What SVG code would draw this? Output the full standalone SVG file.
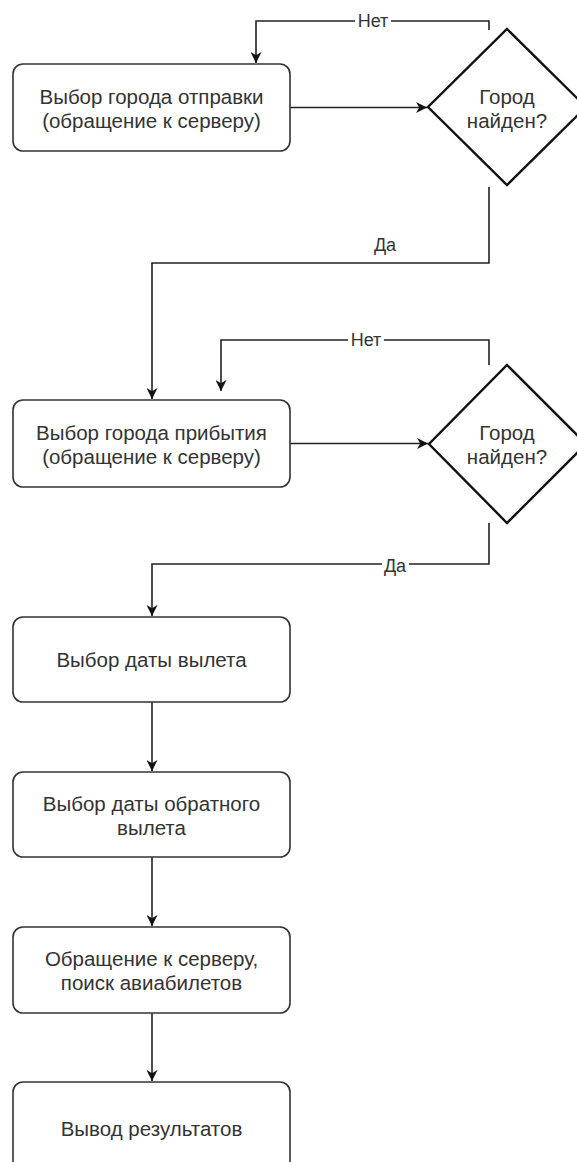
<svg xmlns="http://www.w3.org/2000/svg" width="577" height="1162" viewBox="0 0 577 1162">
<style>
.box{fill:#fff;stroke:#333;stroke-width:1.6}
.dia{fill:#fff;stroke:#111;stroke-width:2.4}
.t{font-family:"Liberation Sans",Arial,sans-serif;font-size:20.5px;fill:#333;text-anchor:middle}
.lbl{font-family:"Liberation Sans",Arial,sans-serif;font-size:18px;fill:#333;text-anchor:middle}
.c{fill:none;stroke:#222;stroke-width:1.6}
.bg{fill:#fff}
</style>
<defs>
<marker id="ah" viewBox="0 0 10 10" refX="10" refY="5" markerWidth="11" markerHeight="11" markerUnits="userSpaceOnUse" orient="auto">
<path d="M0,0 L10,5 L0,10 L3,5 z" fill="#111"/>
</marker>
</defs>
<rect width="577" height="1162" fill="#fff"/>
<g id="connectors">
<path class="c" d="M290,107.5 H427" marker-end="url(#ah)"/>
<path class="c" d="M489,30 V21 H256 V63" marker-end="url(#ah)"/>
<path class="c" d="M489,187 V263 H152 V399" marker-end="url(#ah)"/>
<path class="c" d="M290,443.5 H428" marker-end="url(#ah)"/>
<path class="c" d="M489,365 V340 H221 V391" marker-end="url(#ah)"/>
<path class="c" d="M489,523 V564 H152 V616" marker-end="url(#ah)"/>
<path class="c" d="M152,702 V771" marker-end="url(#ah)"/>
<path class="c" d="M152,857 V926" marker-end="url(#ah)"/>
<path class="c" d="M152,1013 V1081" marker-end="url(#ah)"/>
<rect class="bg" x="355" y="12" width="36" height="18"/>
<text class="lbl" x="373" y="27">Нет</text>
<text class="lbl" x="385" y="251">Да</text>
<rect class="bg" x="348" y="331" width="36" height="18"/>
<text class="lbl" x="366" y="346">Нет</text>
<rect class="bg" x="382" y="556" width="27" height="18"/>
<text class="lbl" x="395" y="572">Да</text>
</g>
<g id="node1">
<rect class="box" x="13" y="64" width="277" height="87" rx="10"/>
<text class="t" x="151.5" y="103.5">Выбор города отправки</text>
<text class="t" x="151.5" y="127.5">(обращение к серверу)</text>
</g>
<g id="decision1">
<path class="dia" d="M507,29 L586,107 L507,185 L428,107 Z"/>
<text class="t" x="507" y="103.5">Город</text>
<text class="t" x="507" y="127.5">найден?</text>
</g>
<g id="node2">
<rect class="box" x="13" y="400" width="277" height="87" rx="10"/>
<text class="t" x="151.5" y="439.5">Выбор города прибытия</text>
<text class="t" x="151.5" y="463.5">(обращение к серверу)</text>
</g>
<g id="decision2">
<path class="dia" d="M507,365 L586,444 L507,523 L429,444 Z"/>
<text class="t" x="507" y="439.5">Город</text>
<text class="t" x="507" y="463.5">найден?</text>
</g>
<g id="node3">
<rect class="box" x="13" y="617" width="277" height="85" rx="10"/>
<text class="t" x="151.5" y="667">Выбор даты вылета</text>
</g>
<g id="node4">
<rect class="box" x="13" y="772" width="277" height="85" rx="10"/>
<text class="t" x="151.5" y="810.5">Выбор даты обратного</text>
<text class="t" x="151.5" y="834.5">вылета</text>
</g>
<g id="node5">
<rect class="box" x="13" y="927" width="277" height="86" rx="10"/>
<text class="t" x="151.5" y="965.5">Обращение к серверу,</text>
<text class="t" x="151.5" y="989.5">поиск авиабилетов</text>
</g>
<g id="node6">
<rect class="box" x="13" y="1082" width="277" height="90" rx="10"/>
<text class="t" x="151.5" y="1135.5">Вывод результатов</text>
</g>
</svg>
